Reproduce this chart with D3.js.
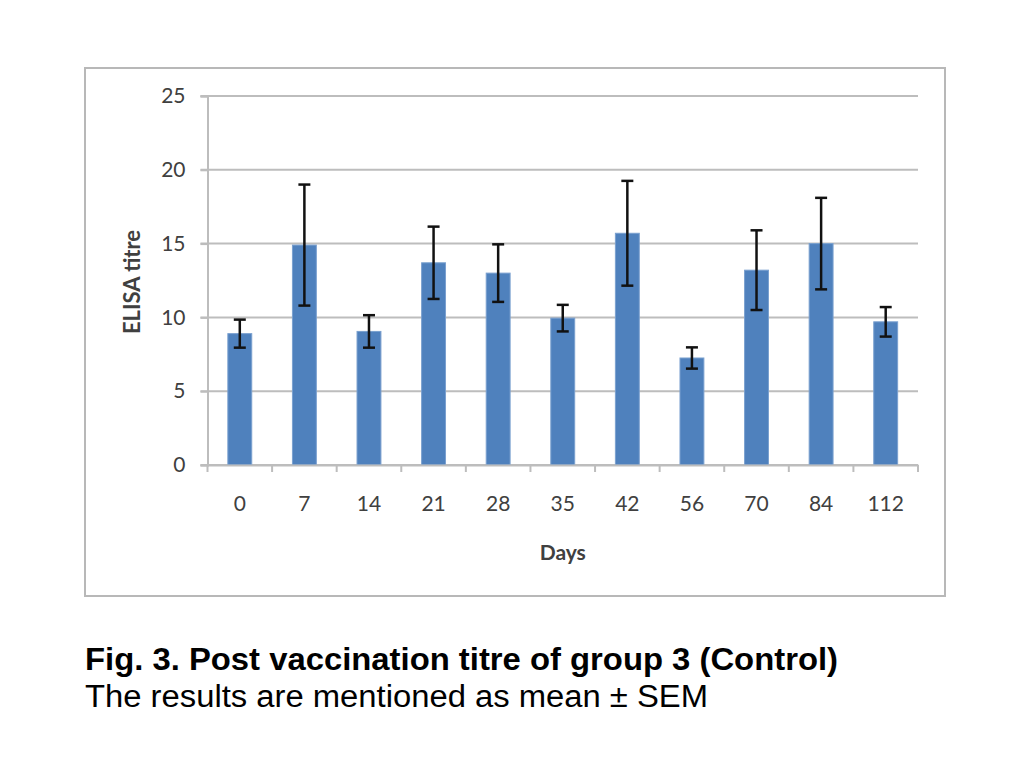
<!DOCTYPE html>
<html>
<head>
<meta charset="utf-8">
<script src="https://cdn.jsdelivr.net/npm/d3@7"></script>
<style>
  body { margin: 0; background: #fff; }
  svg { display: block; }
</style>
</head>
<body>
<svg id="chart" width="1024" height="767"></svg>
<script>
const days = ["0", "7", "14", "21", "28", "35", "42", "56", "70", "84", "112"];
const meanTitre = [8.9, 14.9, 9.05, 13.7, 13.0, 9.95, 15.7, 7.25, 13.2, 15.0, 9.7];
const semTitre = [0.95, 4.1, 1.1, 2.45, 1.95, 0.9, 3.55, 0.72, 2.7, 3.1, 1.0];
const yTicks = [0, 5, 10, 15, 20, 25];

const data = days.map((d, i) => ({ day: d, mean: meanTitre[i], sem: semTitre[i] }));

const svg = d3.select("#chart");
const font = "Lato, 'Open Sans', sans-serif";

// chart frame
svg.append("rect")
  .attr("x", 85).attr("y", 68)
  .attr("width", 860).attr("height", 528)
  .attr("fill", "#fff")
  .attr("stroke", "#b8b8b8")
  .attr("stroke-width", 2);

const margin = { top: 96, left: 207.5 };
const width = 918 - margin.left;
const height = 465 - margin.top;

const g = svg.append("g")
  .attr("transform", "translate(" + margin.left + "," + margin.top + ")");

const x = d3.scaleBand()
  .domain(days)
  .range([0, width])
  .paddingInner(0.63)
  .paddingOuter(0.315);

const y = d3.scaleLinear()
  .domain([0, 25])
  .range([height, 0]);

// gridlines
g.append("g")
  .selectAll("line")
  .data(yTicks)
  .enter().append("line")
  .attr("x1", -7).attr("x2", width)
  .attr("y1", d => y(d)).attr("y2", d => y(d))
  .attr("stroke", "#bdbdbd")
  .attr("stroke-width", 2);

// y axis
const yAxis = g.append("g")
  .call(d3.axisLeft(y).tickValues(yTicks).tickSize(7).tickPadding(15));
yAxis.select(".domain").attr("stroke", "#bdbdbd").attr("stroke-width", 2);
yAxis.selectAll(".tick line").attr("stroke", "#bdbdbd").attr("stroke-width", 2);
yAxis.selectAll("text")
  .style("font-family", font)
  .style("font-size", "21px")
  .attr("fill", "#404040");

// bars
g.selectAll(".bar")
  .data(data)
  .enter().append("rect")
  .attr("class", "bar")
  .attr("x", d => x(d.day))
  .attr("y", d => y(d.mean))
  .attr("width", x.bandwidth())
  .attr("height", d => height - y(d.mean))
  .attr("fill", "#4f81bd")
  .attr("stroke", "#7aa0cf")
  .attr("stroke-width", 1);

// x axis
const xAxis = g.append("g")
  .attr("transform", "translate(0," + height + ")")
  .call(d3.axisBottom(x).tickSize(0).tickPadding(31));
xAxis.select(".domain").attr("stroke", "#bdbdbd").attr("stroke-width", 2);
xAxis.selectAll("text")
  .style("font-family", font)
  .style("font-size", "21px")
  .attr("fill", "#404040");

// category separator ticks
const step = x.step();
g.append("g")
  .selectAll("line")
  .data(d3.range(days.length + 1))
  .enter().append("line")
  .attr("x1", i => i * step).attr("x2", i => i * step)
  .attr("y1", height).attr("y2", height + 7)
  .attr("stroke", "#bdbdbd")
  .attr("stroke-width", 2);

// error bars
const cap = 6;
const err = g.append("g").attr("stroke", "#111").attr("stroke-width", 2.5);
data.forEach(d => {
  const cx = x(d.day) + x.bandwidth() / 2;
  err.append("line")
    .attr("x1", cx).attr("x2", cx)
    .attr("y1", y(d.mean + d.sem)).attr("y2", y(d.mean - d.sem));
  err.append("line")
    .attr("x1", cx - cap).attr("x2", cx + cap)
    .attr("y1", y(d.mean + d.sem)).attr("y2", y(d.mean + d.sem));
  err.append("line")
    .attr("x1", cx - cap).attr("x2", cx + cap)
    .attr("y1", y(d.mean - d.sem)).attr("y2", y(d.mean - d.sem));
});

// axis titles
svg.append("text")
  .attr("x", margin.left + width / 2)
  .attr("y", 560)
  .attr("text-anchor", "middle")
  .style("font-family", font)
  .style("font-size", "21px")
  .style("font-weight", "bold")
  .attr("fill", "#404040")
  .text("Days");

svg.append("text")
  .attr("transform", "translate(140,282) rotate(-90)")
  .attr("text-anchor", "middle")
  .style("font-family", font)
  .style("font-size", "22px")
  .style("font-weight", "bold")
  .attr("fill", "#404040")
  .text("ELISA titre");

// caption
svg.append("text")
  .attr("x", 85).attr("y", 670)
  .style("font-family", "'Liberation Sans Narrow', 'Liberation Sans', Arial, sans-serif")
  .style("font-size", "31px")
  .style("font-weight", "bold")
  .attr("fill", "#000")
  .attr("textLength", 753)
  .attr("lengthAdjust", "spacingAndGlyphs")
  .text("Fig. 3. Post vaccination titre of group 3 (Control)");

svg.append("text")
  .attr("x", 85).attr("y", 707)
  .style("font-family", "'Liberation Sans Narrow', 'Liberation Sans', Arial, sans-serif")
  .style("font-size", "31px")
  .attr("fill", "#000")
  .attr("textLength", 623)
  .attr("lengthAdjust", "spacingAndGlyphs")
  .text("The results are mentioned as mean \u00b1 SEM");
</script>
</body>
</html>
